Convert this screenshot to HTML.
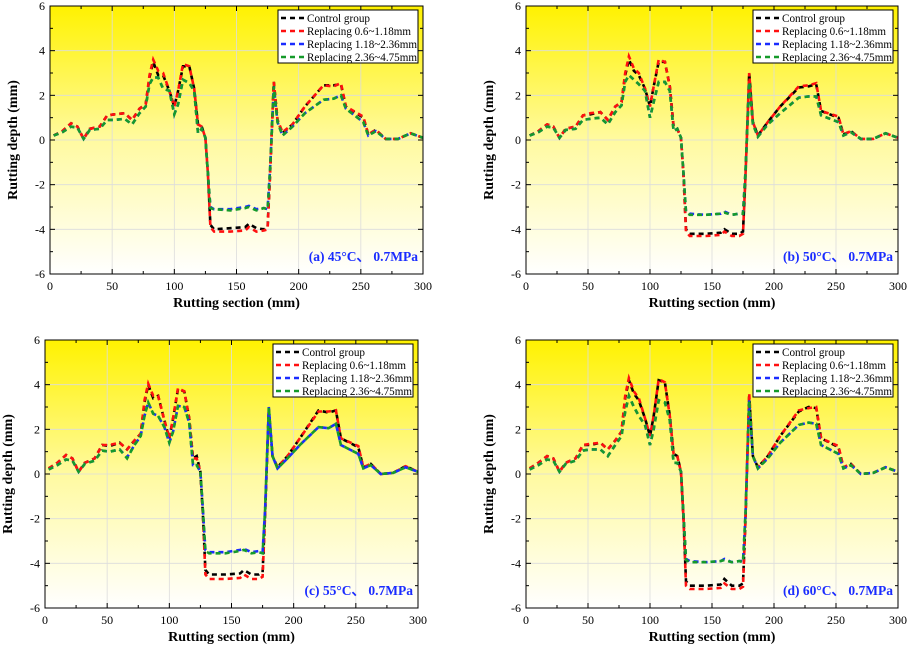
<!DOCTYPE html>
<html><head><meta charset="utf-8">
<style>
html,body{margin:0;padding:0;background:#fff;}
svg{display:block;font-family:"Liberation Serif",serif;}
</style></head>
<body>
<svg id="chart" width="913" height="646" viewBox="0 0 913 646" xmlns="http://www.w3.org/2000/svg">
<defs>
<linearGradient id="bg" x1="0" y1="0" x2="0" y2="1">
<stop offset="0" stop-color="#fff200"/>
<stop offset="0.5" stop-color="#fffaa0"/>
<stop offset="1" stop-color="#ffffff"/>
</linearGradient>
</defs>
</svg>
<script>
const xs=[3,10,17,22,27,32,40,46,52,60,66,72,77,80,83,87,91,96,100,103,107,112,116,119,122,125,127,129,132,145,157,160,166,172,175,177,180,183,187,195,205,220,228,234,238,252,256,262,270,280,290,300];
const seriesNames=["Control group","Replacing 0.6~1.18mm","Replacing 1.18~2.36mm","Replacing 2.36~4.75mm"];
const xTicks=[0,50,100,150,200,250,300];
const yTicks=[-6,-4,-2,0,2,4,6];
// panel a
const ctrlA=[0.2,0.4,0.75,0.6,0.05,0.5,0.6,1.1,1.15,1.2,0.9,1.4,1.6,2.8,3.5,2.9,2.9,2.2,1.5,2.2,3.3,3.3,2.3,0.7,0.6,0.1,-1.5,-3.8,-4.0,-3.95,-3.9,-3.75,-3.95,-4.0,-3.9,-1.5,2.6,0.9,0.3,0.7,1.5,2.45,2.45,2.5,1.5,1.0,0.25,0.45,0.05,0.05,0.3,0.1];
const redA=[0.2,0.4,0.75,0.6,0.05,0.5,0.6,1.1,1.15,1.2,0.9,1.4,1.6,2.9,3.6,3.1,3.0,2.2,1.5,2.2,3.4,3.3,2.3,0.7,0.6,0.1,-1.5,-3.9,-4.1,-4.1,-4.05,-3.9,-4.1,-4.05,-4.0,-1.5,2.6,0.9,0.35,0.7,1.5,2.45,2.4,2.55,1.5,1.05,0.25,0.45,0.05,0.05,0.3,0.1];
const blueA=[0.2,0.35,0.6,0.55,0.05,0.45,0.5,0.9,0.9,0.95,0.7,1.2,1.5,2.5,2.8,2.8,2.3,2.2,1.15,1.6,2.7,2.55,2.2,0.3,0.5,0.1,-1.5,-3.0,-3.1,-3.1,-3.0,-2.95,-3.1,-3.05,-3.1,-1.3,2.4,0.8,0.2,0.6,1.2,1.8,1.85,2.0,1.4,0.8,0.2,0.4,0.05,0.05,0.3,0.1];
const greenA=[0.2,0.35,0.6,0.55,0.05,0.45,0.5,0.9,0.9,0.95,0.7,1.2,1.5,2.5,2.8,2.8,2.3,2.2,1.15,1.6,2.7,2.55,2.2,0.3,0.5,0.1,-1.5,-3.05,-3.1,-3.15,-3.05,-3.0,-3.15,-3.05,-3.1,-1.3,2.4,0.8,0.2,0.6,1.2,1.8,1.85,2.0,1.4,0.8,0.2,0.4,0.05,0.05,0.3,0.1];
// panel b
const ctrlB=[0.2,0.4,0.7,0.6,0.1,0.5,0.6,1.1,1.15,1.25,0.9,1.5,1.7,2.9,3.6,3.1,2.9,2.3,1.5,2.4,3.5,3.5,2.4,0.6,0.5,0.1,-1.6,-4.0,-4.2,-4.2,-4.15,-4.0,-4.2,-4.2,-4.1,-1.6,3.0,0.8,0.2,0.8,1.5,2.35,2.4,2.5,1.3,1.0,0.25,0.4,0.05,0.05,0.3,0.1];
const redB=[0.2,0.4,0.7,0.6,0.1,0.5,0.6,1.1,1.2,1.25,0.9,1.5,1.7,3.0,3.75,3.2,3.0,2.3,1.5,2.4,3.6,3.5,2.4,0.6,0.5,0.1,-1.6,-4.1,-4.3,-4.3,-4.25,-4.1,-4.3,-4.3,-4.2,-1.6,3.0,0.8,0.2,0.8,1.5,2.4,2.45,2.55,1.3,1.05,0.25,0.4,0.05,0.05,0.3,0.1];
const blueB=[0.2,0.35,0.6,0.55,0.1,0.45,0.5,0.9,0.95,1.0,0.7,1.25,1.55,2.6,2.9,2.7,2.5,2.2,1.0,1.7,2.6,2.6,2.2,0.4,0.5,0.1,-1.5,-3.2,-3.3,-3.35,-3.3,-3.2,-3.35,-3.3,-3.3,-1.4,2.6,0.7,0.15,0.7,1.2,1.9,1.95,1.95,1.1,0.8,0.2,0.35,0.05,0.05,0.3,0.1];
const greenB=[0.2,0.35,0.6,0.55,0.1,0.45,0.5,0.9,0.95,1.0,0.7,1.25,1.55,2.6,2.9,2.7,2.5,2.2,1.0,1.7,2.6,2.6,2.2,0.4,0.5,0.1,-1.5,-3.25,-3.35,-3.35,-3.3,-3.25,-3.35,-3.3,-3.3,-1.4,2.6,0.7,0.15,0.7,1.2,1.9,1.95,1.95,1.1,0.8,0.2,0.35,0.05,0.05,0.3,0.1];
// panel c
const ctrlC=[0.25,0.5,0.85,0.7,0.1,0.5,0.7,1.3,1.25,1.4,1.1,1.5,1.8,3.2,4.0,3.4,3.5,2.4,1.6,2.5,3.8,3.7,2.5,0.7,0.8,0.1,-1.8,-4.3,-4.5,-4.5,-4.45,-4.3,-4.5,-4.5,-4.4,-1.8,2.9,0.8,0.3,0.8,1.6,2.85,2.75,2.85,1.6,1.2,0.3,0.45,0.0,0.05,0.35,0.1];
const redC=[0.25,0.5,0.85,0.7,0.1,0.5,0.7,1.3,1.3,1.4,1.1,1.5,1.8,3.3,4.05,3.5,3.5,2.4,1.6,2.5,3.85,3.7,2.5,0.7,0.7,0.1,-1.8,-4.5,-4.7,-4.7,-4.65,-4.5,-4.7,-4.7,-4.6,-1.8,2.9,0.8,0.3,0.8,1.6,2.8,2.8,2.85,1.6,1.25,0.3,0.45,0.0,0.05,0.35,0.1];
const blueC=[0.2,0.4,0.65,0.6,0.1,0.45,0.6,1.05,1.0,1.1,0.75,1.3,1.7,2.6,3.2,2.7,2.6,2.1,1.4,1.9,3.05,3.0,2.3,0.4,0.4,0.1,-1.6,-3.4,-3.5,-3.5,-3.4,-3.35,-3.5,-3.45,-3.5,-1.6,3.0,0.8,0.25,0.7,1.3,2.1,2.05,2.25,1.3,0.9,0.25,0.4,0.0,0.05,0.3,0.1];
const greenC=[0.2,0.4,0.65,0.6,0.1,0.45,0.6,1.05,1.0,1.1,0.7,1.3,1.7,2.6,3.2,2.7,2.6,2.1,1.4,1.9,3.05,3.0,2.3,0.4,0.4,0.1,-1.6,-3.45,-3.55,-3.55,-3.45,-3.4,-3.55,-3.5,-3.55,-1.6,3.0,0.8,0.25,0.7,1.3,2.1,2.05,2.25,1.3,0.9,0.25,0.4,0.0,0.05,0.3,0.1];
// panel d
const ctrlD=[0.25,0.5,0.8,0.7,0.1,0.5,0.7,1.3,1.3,1.4,1.1,1.5,1.9,3.4,4.2,3.6,3.3,2.5,1.7,2.6,4.2,4.1,2.6,0.9,0.8,0.1,-2.0,-4.8,-5.0,-5.0,-4.95,-4.7,-5.0,-5.0,-4.9,-2.0,3.5,0.8,0.3,0.8,1.7,2.8,3.0,2.95,1.6,1.2,0.3,0.45,0.0,0.05,0.3,0.1];
const redD=[0.25,0.5,0.8,0.7,0.1,0.5,0.7,1.3,1.35,1.4,1.1,1.5,1.9,3.5,4.3,3.7,3.4,2.5,1.7,2.6,4.25,4.1,2.6,0.9,0.8,0.1,-2.0,-5.0,-5.15,-5.15,-5.1,-4.9,-5.15,-5.15,-5.05,-2.0,3.6,0.8,0.3,0.8,1.7,2.85,2.95,3.0,1.6,1.25,0.3,0.45,0.0,0.05,0.3,0.1];
const blueD=[0.2,0.4,0.65,0.6,0.1,0.45,0.6,1.05,1.1,1.1,0.8,1.3,1.7,2.8,3.5,3.0,2.6,2.2,1.3,2.0,3.3,3.2,2.4,0.5,0.5,0.1,-1.8,-3.8,-3.9,-3.95,-3.9,-3.8,-3.95,-3.9,-3.9,-1.8,3.3,0.8,0.25,0.7,1.4,2.2,2.3,2.25,1.3,0.9,0.25,0.4,0.0,0.05,0.3,0.1];
const greenD=[0.2,0.4,0.65,0.6,0.1,0.45,0.6,1.05,1.1,1.1,0.8,1.3,1.7,2.8,3.5,3.0,2.6,2.2,1.3,2.0,3.3,3.2,2.4,0.5,0.5,0.1,-1.8,-3.85,-3.95,-3.95,-3.9,-3.85,-3.95,-3.9,-3.95,-1.8,3.3,0.8,0.25,0.7,1.4,2.2,2.3,2.25,1.3,0.9,0.25,0.4,0.0,0.05,0.3,0.1];

const NS="http://www.w3.org/2000/svg";
const svg=document.getElementById('chart');
const colors=["#000000","#ff1010","#1a2cff","#159a2a"];
const legendLens=[63,104,110,110];
function mk(tag,attrs,parent){const e=document.createElementNS(NS,tag);for(const k in attrs)e.setAttribute(k,attrs[k]);(parent||svg).appendChild(e);return e;}

function panel(id,ox,oy,w,h,data,label){
  const g=mk('g',{});
  
  
  const sx=v=>ox+v/300*w, sy=v=>oy+(6-v)/12*h;
  const bgR=mk('rect',{x:ox,y:oy,width:w,height:h,fill:'url(#bg)'},g);
  
  
  xTicks.forEach(t=>{const l=mk('line',{x1:sx(t),x2:sx(t),y1:oy,y2:oy+h,stroke:'#dcdcdc','stroke-width':0.8},g);
    
    });
  yTicks.forEach(t=>{const l=mk('line',{x1:ox,x2:ox+w,y1:sy(t),y2:sy(t),stroke:'#dcdcdc','stroke-width':0.8},g);
    
    });
  data.forEach((arr,si)=>{
    const d=arr.map((v,i)=>(i?'L':'M')+sx(xs[i]).toFixed(1)+','+sy(v).toFixed(1)).join('');
    const p=mk('path',{d:d,fill:'none',stroke:colors[si],'stroke-width':2.6,'stroke-dasharray':'5,4'},g);
    
    
  });
  const fr=mk('rect',{x:ox,y:oy,width:w,height:h,fill:'none',stroke:'#000','stroke-width':1},g);
  
  
  for(let t=0;t<=300;t+=25){const L=t%50?3:5;mk('line',{x1:sx(t),x2:sx(t),y1:oy+h,y2:oy+h-L,stroke:'#000'},g);mk('line',{x1:sx(t),x2:sx(t),y1:oy,y2:oy+L,stroke:'#000'},g);}
  for(let t=-6;t<=6;t+=1){const L=t%2?3:5;mk('line',{x1:ox,x2:ox+L,y1:sy(t),y2:sy(t),stroke:'#000'},g);mk('line',{x1:ox+w,x2:ox+w-L,y1:sy(t),y2:sy(t),stroke:'#000'},g);}
  xTicks.forEach(t=>{const tx=mk('text',{x:sx(t),y:oy+h+16,'text-anchor':'middle','font-size':12},g);tx.textContent=t;
    
    });
  yTicks.forEach(t=>{const tx=mk('text',{x:ox-5,y:sy(t)+4,'text-anchor':'end','font-size':12},g);tx.textContent=t;
    
    });
  const xt=mk('text',{x:ox+w/2,y:oy+h+33,'text-anchor':'middle','font-size':14,'font-weight':'bold'},g);xt.textContent='Rutting section (mm)';
  
  
  const yx=ox-33, yy=oy+h/2;
  const yt=mk('text',{x:yx,y:yy,'text-anchor':'middle','font-size':14,'font-weight':'bold',transform:'rotate(-90 '+yx+' '+yy+')'},g);yt.textContent='Rutting depth (mm)';
  
  
  // legend
  const lx=ox+w-145, ly=oy+4;
  const lg=mk('g',{},g);
  
  
  mk('rect',{x:lx,y:ly,width:140,height:53,fill:'#fff',stroke:'#000','stroke-width':1},lg);
  seriesNames.forEach((n,i)=>{
    const yy2=ly+8+i*13;
    const e=mk('g',{},lg);
    
    
    mk('line',{x1:lx+3,x2:lx+26,y1:yy2,y2:yy2,stroke:colors[i],'stroke-width':2.6,'stroke-dasharray':'5,4'},e);
    const tx=mk('text',{x:lx+29,y:yy2+4,'font-size':12,textLength:legendLens[i],lengthAdjust:'spacingAndGlyphs'},e);tx.textContent=n;
  });
  const pl=mk('text',{x:ox+w-5,y:oy+h-13,'text-anchor':'end','font-size':13.5,'font-weight':'bold',fill:'#1a2cff'},g);
  pl.textContent=label;
  
  
}
panel('a',50,6,373,268,[ctrlA,redA,blueA,greenA],'(a) 45°C、 0.7MPa');
panel('b',526,6,372,268,[ctrlB,redB,blueB,greenB],'(b) 50°C、 0.7MPa');
panel('c',45,340,373,268,[ctrlC,redC,blueC,greenC],'(c) 55°C、 0.7MPa');
panel('d',526,340,372,268,[ctrlD,redD,blueD,greenD],'(d) 60°C、 0.7MPa');
</script>
</body></html>
